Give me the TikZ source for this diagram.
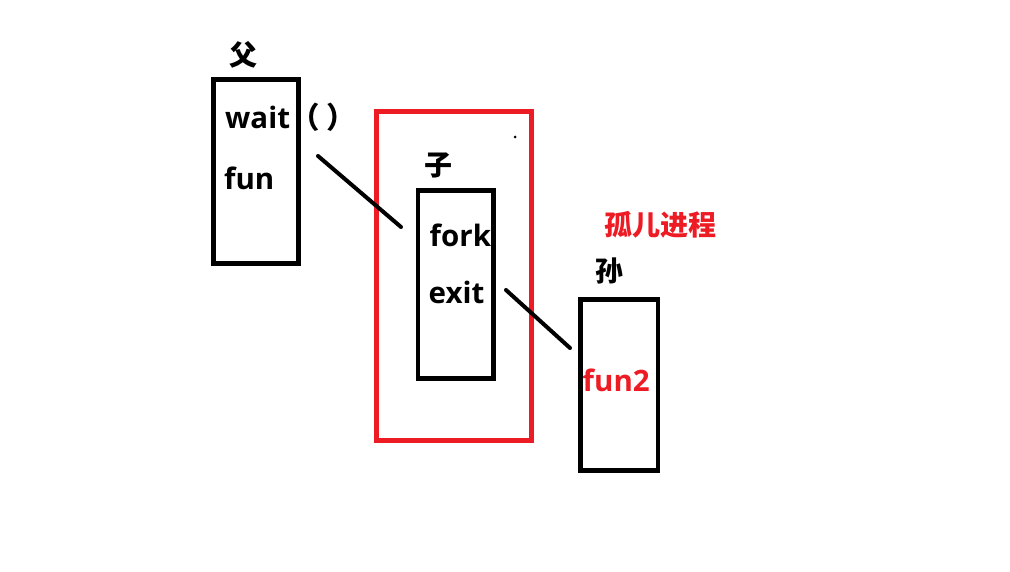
\documentclass[tikz,border=0pt]{standalone}
\usepackage{fontspec}
\setmainfont{Open Sans}
\newfontfamily\cjk{Noto Sans CJK SC}
\definecolor{paintred}{RGB}{237,28,36}
\tikzset{
  procbox/.style={draw=black, line width=4.5pt},
  orphanbox/.style={draw=paintred, line width=5pt},
  callline/.style={line width=4pt, line cap=round},
  code/.style={anchor=base west, inner sep=0pt, font=\fontsize{29.5}{31}\selectfont\bfseries},
  title/.style={inner sep=0pt, font=\fontsize{28}{30}\selectfont\cjk\bfseries},
}

\begin{document}
\begin{tikzpicture}[x=1pt,y=-1pt]
    \useasboundingbox (0,0) rectangle (1010,572);

    % Draw the parent process box
    \draw[procbox] (213.5,79.5) rectangle (298.5,263.5);
    \node[title] (fu) at (243.5,55) {父};
    \node[code] (wait) at (225,129) {wait{\cjk（ ）}};
    \node[code] (fun) at (224,190) {fun};

    % Draw the orphan frame round the child
    \draw[orphanbox] (376.5,112) rectangle (531.5,440.5);
    \fill (515,137) circle (1.5);

    % Draw the child process box
    \draw[procbox] (418,190.5) rectangle (493.5,378.5);
    \node[title] (zi) at (438.5,165) {子};
    \node[code] (fork) at (429.5,247) {fork};
    \node[code] (exit) at (428.5,304) {exit};

    % Draw the grandchild process box
    \draw[procbox] (580.5,299.5) rectangle (658,470.5);
    \node[title] (sun) at (609,271) {孙};
    \node[code, text=paintred] (fun2) at (582.5,391) {fun2};
    \node[title, text=paintred] (orphan) at (660.5,225) {孤儿进程};

    % Connect the calls
    \coordinate (waitend) at (318,156);
    \coordinate (forkend) at (401,227);
    \coordinate (exitend) at (506,290);
    \coordinate (fun2end) at (570,348);
    \draw[callline] (waitend) -- (forkend);
    \draw[callline] (exitend) -- (fun2end);

\end{tikzpicture}
\end{document}
